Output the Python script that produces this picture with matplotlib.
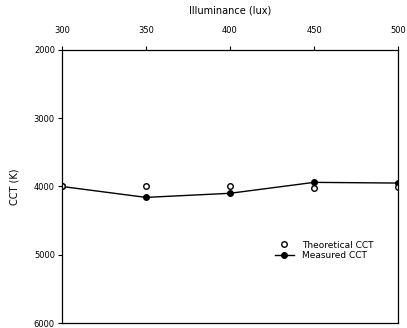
import matplotlib
matplotlib.use("Agg")
from matplotlib import pyplot as plt

illuminance = [300, 350, 400, 450, 500]
measured_cct = [4000, 4160, 4100, 3940, 3950]
theoretical_cct = [4000, 3990, 4000, 4020, 4010]
x_ticks = [300, 350, 400, 450, 500]
y_ticks = [2000, 3000, 4000, 5000, 6000]

fig = plt.figure(figsize=(4.07, 3.28), dpi=100)
ax = fig.add_axes([0.152, 0.015, 0.826, 0.833])

ax.plot(illuminance, measured_cct, color="black", lw=1.0, marker="o",
        ms=4, mfc="black", mec="black", label="Measured CCT")
ax.plot(illuminance, theoretical_cct, ls="none", marker="o", ms=4,
        mfc="white", mec="black", mew=1.0, label="Theoretical CCT")

ax.set_xlim(300, 500)
ax.set_ylim(6000, 2000)  # reference is drawn upside down
ax.set_xticks(x_ticks)
ax.set_yticks(y_ticks)
ax.xaxis.tick_top()
ax.xaxis.set_label_position("top")
ax.tick_params(axis="both", direction="out", length=3, width=0.8,
               labelsize=6, pad=2)
ax.tick_params(axis="x", pad=8)
for s in ax.spines.values():
    s.set_linewidth(0.9)

ax.set_xlabel("Illuminance (lux)", fontsize=7, labelpad=9)
ax.set_ylabel("CCT (K)", fontsize=7, labelpad=10)

h, l = ax.get_legend_handles_labels()
ax.legend(h[::-1], l[::-1], loc="lower right", bbox_to_anchor=(0.95, 0.2),
          frameon=False, fontsize=6.5, handlelength=2.2, labelspacing=0.2)

fig.savefig("out.png", dpi=100)
